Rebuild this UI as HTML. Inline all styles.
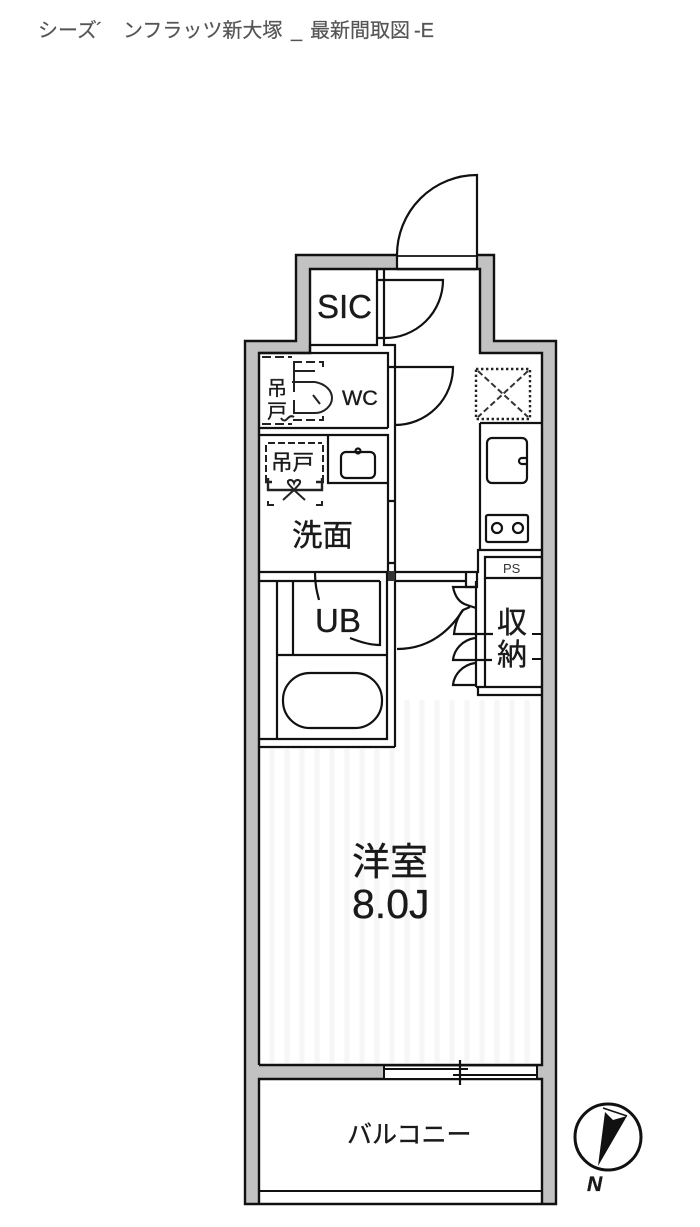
<!DOCTYPE html>
<html><head><meta charset="utf-8">
<style>html,body{margin:0;padding:0;background:#fff}svg{display:block;filter:blur(0.35px)}
text{font-family:"Liberation Sans","Noto Sans CJK JP",sans-serif;fill:#1a1a1a;stroke:#1a1a1a;stroke-width:.35}
.t{fill:#555;stroke:#555;stroke-width:.2}</style></head>
<body>
<svg width="700" height="1227" viewBox="0 0 700 1227" xmlns="http://www.w3.org/2000/svg">
<rect width="700" height="1227" fill="#fff"/>
<text class="t" x="38" y="37" font-size="20">シーズ</text>
<text class="t" x="96" y="37" font-size="20">´</text>
<text class="t" x="123" y="37" font-size="20">ンフラッツ新大塚</text>
<text class="t" x="291" y="37" font-size="20">_</text>
<text class="t" x="310" y="37" font-size="20">最新間取図</text>
<text class="t" x="414" y="37" font-size="20">-E</text>

<!-- walls -->
<path d="M245,1204V341H296V255H494V341H556V1204H542V1079H259V1204ZM259,1065H542V353H480V269H310V353H259Z" fill="#c2c2c2" fill-rule="evenodd"/>
<g fill="none" stroke="#111" stroke-width="2.4">
<path d="M259,1204H245V341H296V255H494V341H556V1204H542"/>
<path d="M259,1204H542" stroke-width="2.6"/>
<path d="M259,1065V353H310V269H480V353H542V1065H259"/>
<path d="M259,1204V1079H542V1204"/>
<path d="M259,1191H542" stroke-width="2"/>
</g>
<!-- floor stripes -->
<g stroke="#f6f6f6" stroke-width="5">
<path d="M272,749V1063M287,749V1063M302,749V1063M317,749V1063M332,749V1063M347,749V1063M362,749V1063M377,749V1063M392,749V1063M407,700V1063M422,700V1063M437,700V1063M452,700V1063M467,700V1063M482,700V1063M497,700V1063M512,700V1063M527,700V1063"/>
</g>
<!-- entry door -->
<rect x="397" y="253" width="80" height="15" fill="#fff"/>
<path d="M397,269V255A80,80 0 0 1 477,175V269" fill="none" stroke="#111" stroke-width="2.2"/>
<path d="M397,256H477" stroke="#111" stroke-width="1.8"/>
<path d="M397,269H477" stroke="#111" stroke-width="2.4"/>

<g fill="none" stroke="#111" stroke-width="2.2">
<!-- SIC -->
<path d="M310,345H377V269M384,269V345H395V428"/>
<path d="M377,280H443A58,58 0 0 1 384,338H377"/>
<path d="M310,345V353"/>
<!-- WC -->
<path d="M259,353H388V428M259,428H388M259,435H388V572M395,428V747"/>
<path d="M388,367H453A58,58 0 0 1 395,425"/>
<!-- wash -->
<path d="M328,435V483H388"/>
<rect x="341" y="452" width="34" height="26" rx="5"/>
<circle cx="358" cy="451" r="2.5"/>
<path d="M388,501H395M388,563H395"/>
<path d="M259,572H388M395,572H478V550H542M259,581H380M395,581H466"/>
<path d="M387,572V581"/>
<rect x="388" y="571" width="7" height="10" fill="#333" stroke="none"/>
<!-- UB -->
<path d="M259,739H387V581M259,747H395M277,581V739M293,581V655M277,655H387"/>
<rect x="283" y="673" width="99" height="55" rx="27"/>
<path d="M380,581V645C370,645 360,642 350,638"/>
<path d="M315,573C315,585 317,592 319,600"/>
<!-- room door -->
<path d="M397,649C425,649 447,635 463,610L470,607"/>
<!-- kitchen -->
<path d="M480,423V549M480,423H542"/>
<rect x="487" y="438" width="40" height="45" rx="5"/>
<path d="M527,458H522A3,3 0 0 0 522,464H527"/>
<rect x="486" y="515" width="42" height="27" rx="2"/>
<circle cx="497" cy="528" r="5"/><circle cx="518" cy="528" r="5"/>
<!-- PS / closet -->
<path d="M542,557H485V578H542"/>
<path d="M466,573V587H477V573M476,581V687M478,687V695H542M485,578V687H542M476,687H542"/>
<path d="M476,587H453C455,597 460,603 467,605L476,608"/>
<path d="M463,610C458,616 455,625 454,634H493"/>
<path d="M475,638C462,640 454,650 453,660H492"/>
<path d="M475,663C462,665 454,675 453,685H476"/>
<path d="M532,634H542M532,659H542" stroke-width="2"/>
</g>
<!-- balcony window -->
<rect x="384" y="1067" width="153" height="11" fill="#fff"/>
<g fill="none" stroke="#111" stroke-width="2">
<path d="M384,1066V1079M537,1066V1079M384,1069H468M453,1075H537"/>
<path d="M460,1060V1085" stroke-width="2.2"/>
</g>
<!-- range hood -->
<rect x="476" y="369" width="54" height="50" fill="none" stroke="#222" stroke-width="2.4" stroke-dasharray="2.4 2.6"/>
<path d="M478,371L528,417M528,371L478,417" stroke="#333" stroke-width="2" stroke-dasharray="6 3" fill="none"/>
<!-- WC fixtures -->
<g fill="none" stroke="#222" stroke-width="2">
<path d="M262,357H292M293,362H323V368M262,424H292M293,420H323V416" stroke-dasharray="9 4"/>
<path d="M294,362V392M294,371H315M292,382H315M294,400V413H315"/>
<path d="M315,382C326,384 332,391 332,398C332,406 324,413 315,413"/>
<path d="M313,395L320,404"/>
<path d="M281,418Q284,423 288,418Q291,415 294,417"/>
<!-- wash fixtures -->
<path d="M268,443H322M266,445V482M323,445V482" stroke-dasharray="7 3"/>
<path d="M268,478V490H322V478M265,482H272M316,482H324" stroke-width="2.4"/>
<path d="M268,501V505H274M322,501V505H316"/>
<path d="M283,500L294,490L305,500"/>
<path d="M294,490C291,486 287,484 288,481C290,479 293,480 294,483C295,480 298,479 300,481C301,484 297,486 294,490Z"/>
</g>
<!-- labels -->
<text x="317" y="318" font-size="33">SIC</text>
<text x="342" y="405" font-size="21.5">WC</text>
<text x="277" y="395" font-size="20" text-anchor="middle">吊</text>
<text x="277" y="418" font-size="20" text-anchor="middle">戸</text>
<text x="271" y="470" font-size="21.5">吊戸</text>
<text x="292" y="546" font-size="30.5">洗面</text>
<text x="315" y="632" font-size="33">UB</text>
<text x="503" y="573" font-size="13" style="fill:#333;stroke:none">PS</text>
<text x="512" y="633" font-size="30" text-anchor="middle">収</text>
<text x="512" y="665" font-size="30" text-anchor="middle">納</text>
<text x="352" y="875" font-size="38">洋室</text>
<text x="352" y="918" font-size="41">8.0J</text>
<text x="347" y="1143" font-size="25">バルコニー</text>
<!-- compass -->
<circle cx="608" cy="1137" r="33" fill="#fff" stroke="#111" stroke-width="3"/>
<path d="M603,1108L627,1116" stroke="#111" stroke-width="1.5"/>
<path d="M605,1112L613,1120L627,1116L598,1166Z" fill="#111"/>
<text x="587" y="1191" font-size="21" font-weight="bold" font-style="italic">N</text>
</svg>
</body></html>
